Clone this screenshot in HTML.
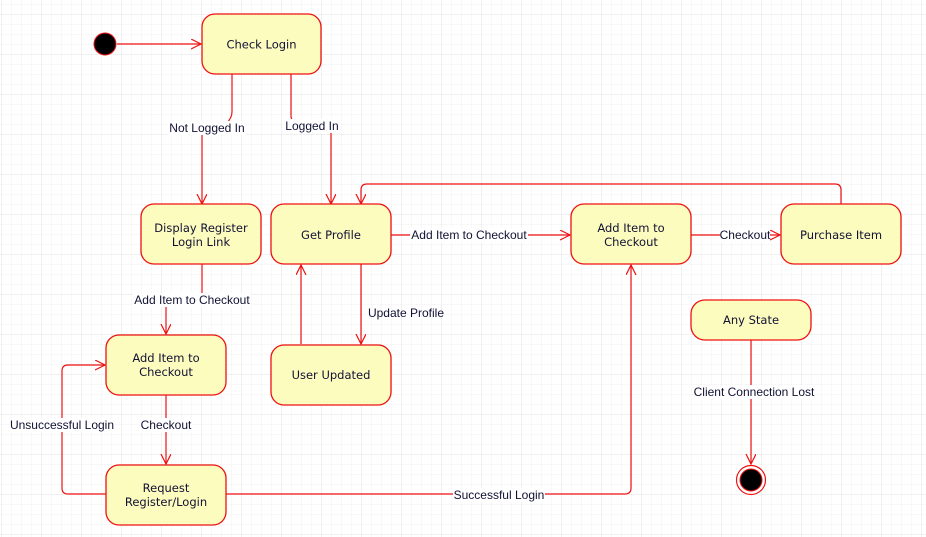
<!DOCTYPE html>
<html><head><style>
html,body{margin:0;padding:0;background:#fff;}
svg{display:block;}
.n{fill:#fdfcbf;stroke:#ee1111;stroke-width:1.3;}
.e{fill:none;stroke:#ee1111;stroke-width:1.2;}
.t{font-family:"DejaVu Sans",sans-serif;font-size:11.5px;fill:#111133;text-anchor:middle;}
.l{font-family:"Liberation Sans",sans-serif;font-size:12px;fill:#111133;text-anchor:middle;}
.bg{fill:#fff;}
</style></head><body>
<svg width="926" height="537" viewBox="0 0 926 537" xmlns="http://www.w3.org/2000/svg">
<defs>
<pattern id="minor" x="1.5" y="4" width="10" height="10" patternUnits="userSpaceOnUse">
<path d="M0 0V10M0 0H10" stroke="#f1f1f1" stroke-width="1" fill="none"/>
</pattern>
<pattern id="major" x="1.5" y="14" width="40" height="40" patternUnits="userSpaceOnUse">
<path d="M0 0V40M0 0H40" stroke="#e0e0e0" stroke-width="1" fill="none"/>
</pattern>
<marker id="a" markerWidth="12" markerHeight="12" refX="10" refY="5" orient="auto" markerUnits="userSpaceOnUse">
<path d="M0 0L10 5L0 10" fill="none" stroke="#ee1111" stroke-width="1.2"/>
</marker>
</defs>
<rect width="926" height="537" fill="url(#minor)"/>
<rect width="926" height="537" fill="url(#major)"/>

<path class="e" d="M117 44H201" marker-end="url(#a)"/>
<path class="e" d="M232 74V112Q232 118 226 124L202 134V204" marker-end="url(#a)"/>
<path class="e" d="M291 74V116Q291 122 300 124L331 128V204" marker-end="url(#a)"/>
<path class="e" d="M202 264V292Q202 298 190 300L166 306V334" marker-end="url(#a)"/>
<path class="e" d="M391 235H570" marker-end="url(#a)"/>
<path class="e" d="M691 235H780" marker-end="url(#a)"/>
<path class="e" d="M841 204V190Q841 184 835 184H367Q361 184 361 190V204" marker-end="url(#a)"/>
<path class="e" d="M361 264V344" marker-end="url(#a)"/>
<path class="e" d="M301 344V265" marker-end="url(#a)"/>
<path class="e" d="M166 394V464" marker-end="url(#a)"/>
<path class="e" d="M106 494H68Q62 494 62 488V371Q62 365 68 365H105" marker-end="url(#a)"/>
<path class="e" d="M226 494H625Q631 494 631 488V265" marker-end="url(#a)"/>
<path class="e" d="M751 339V464" marker-end="url(#a)"/>

<rect class="bg" x="168" y="121" width="78" height="14"/><text class="l" x="207" y="132">Not Logged In</text>
<rect class="bg" x="284" y="119" width="56" height="14"/><text class="l" x="312" y="130">Logged In</text>
<rect class="bg" x="133" y="293" width="118" height="14"/><text class="l" x="192" y="304">Add Item to Checkout</text>
<rect class="bg" x="410" y="228" width="118" height="14"/><text class="l" x="469" y="239">Add Item to Checkout</text>
<rect class="bg" x="720" y="228" width="50" height="14"/><text class="l" x="745" y="239">Checkout</text>
<text class="l" x="406" y="317">Update Profile</text>
<rect class="bg" x="140" y="418" width="52" height="14"/><text class="l" x="166" y="429">Checkout</text>
<rect class="bg" x="10" y="418" width="105" height="14"/><text class="l" x="62" y="429">Unsuccessful Login</text>
<rect class="bg" x="453" y="488" width="92" height="14"/><text class="l" x="499" y="499">Successful Login</text>
<rect class="bg" x="694" y="385" width="121" height="14"/><text class="l" x="754" y="396">Client Connection Lost</text>

<circle cx="105" cy="44" r="11" fill="#000" stroke="#ee1111" stroke-width="1"/>
<rect class="n" x="202" y="14" width="119" height="60" rx="13"/>
<text class="t" x="261.5" y="48.5">Check Login</text>
<rect class="n" x="141" y="204" width="120" height="60" rx="13"/>
<text class="t" x="201" y="232">Display Register</text><text class="t" x="201" y="246">Login Link</text>
<rect class="n" x="271" y="204" width="120" height="60" rx="13"/>
<text class="t" x="331" y="239">Get Profile</text>
<rect class="n" x="571" y="204" width="120" height="60" rx="13"/>
<text class="t" x="631" y="232">Add Item to</text><text class="t" x="631" y="246">Checkout</text>
<rect class="n" x="781" y="204" width="120" height="60" rx="13"/>
<text class="t" x="841" y="239">Purchase Item</text>
<rect class="n" x="106" y="335" width="120" height="60" rx="13"/>
<text class="t" x="166" y="362">Add Item to</text><text class="t" x="166" y="376">Checkout</text>
<rect class="n" x="271" y="345" width="120" height="60" rx="13"/>
<text class="t" x="331" y="379">User Updated</text>
<rect class="n" x="106" y="465" width="120" height="60" rx="13"/>
<text class="t" x="166" y="492">Request</text><text class="t" x="166" y="506">Register/Login</text>
<rect class="n" x="691" y="300" width="120" height="40" rx="14"/>
<text class="t" x="751" y="324">Any State</text>
<circle cx="751" cy="480" r="14.5" fill="#fff" stroke="#ee1111" stroke-width="1.2"/>
<circle cx="751" cy="480" r="11" fill="#000" stroke="#ee1111" stroke-width="1"/>
</svg>
</body></html>
